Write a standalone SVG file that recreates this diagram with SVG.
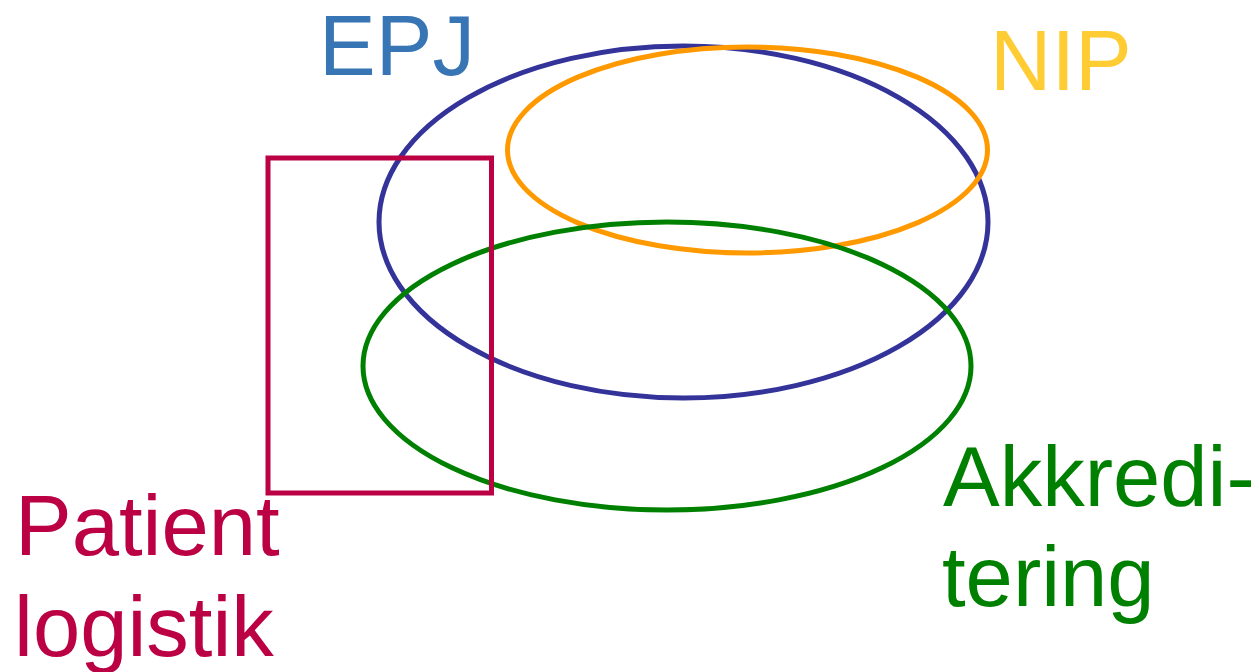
<svg xmlns="http://www.w3.org/2000/svg" width="1259" height="672" viewBox="0 0 1259 672">
<style>
.shape{fill:none;stroke-width:5}
.lbl{font-family:"Liberation Sans",Arial,sans-serif;font-size:85px}
</style>
<rect width="1259" height="672" fill="#ffffff"/>
<g id="epj">
<ellipse class="shape" cx="683.5" cy="222" rx="304.5" ry="176" stroke="#333399"/>
<text class="lbl" x="319" y="75" fill="#3875b5">EPJ</text>
</g>
<g id="nip">
<ellipse class="shape" cx="747.5" cy="150" rx="240" ry="103" stroke="#ff9900"/>
<text class="lbl" x="990" y="90" fill="#ffcc33">NIP</text>
</g>
<g id="akkreditering">
<ellipse class="shape" cx="667" cy="366" rx="304" ry="144" stroke="#008000"/>
<text class="lbl" fill="#008000"><tspan x="943" y="506">Akkredi-</tspan><tspan x="942" y="606">tering</tspan></text>
</g>
<g id="patientlogistik">
<rect x="268" y="158" width="223.5" height="335" fill="none" stroke="#bb0044" stroke-width="5"/>
<text class="lbl" fill="#bb0044"><tspan x="15" y="555">Patient</tspan><tspan x="14" y="656">logistik</tspan></text>
</g>
<g id="connectors"/>
</svg>
